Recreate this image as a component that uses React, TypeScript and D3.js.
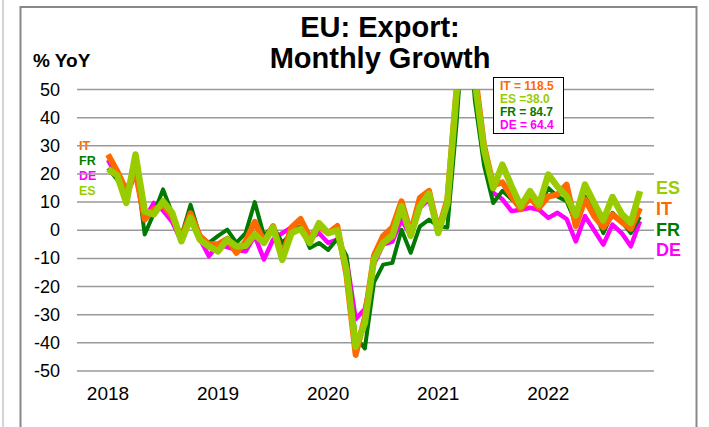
import * as d3 from 'd3';

// monthly % YoY, Jan 2018 .. Nov 2022
const IT = [
  26.9, 21, 14, 21, 3.8, 7.5, 9, 5, -3, 6, -2, -5,
  -5, -3, -8, -4, 3, -4, 1.5, -9, 1, 4, -2.5, 1.5,
  -1, 1.5, -16, -44.3, -31, -9, -2, 1, 10.3, -1, 11.5, 14,
  0, 11, 50, 118.5, 56, 30, 16, 17, 12, 7.5, 11.5, 8,
  12, 12.7, 16.2, 1.5, 11, 5, 1, 5.6, 3, 0.5, 7.9,
];
const FR = [
  22, 18, 12, 24, -1.5, 6, 14.5, 6, -2, 9, -2, -4.5,
  -2, 0.2, -4.5, -1, 10, -2, 1.4, -4.5, -1, 1.4, -6.3, -4.5,
  -7, -3, -9, -38, -42, -18.5, -12.2, -11.6, 0.2, -8, 1.4, 3.8,
  1.5, 1, 38, 84.7, 46, 23, 9.7, 14, 11, 7.9, 12, 8.5,
  15, 12, 10.3, 2.6, 12, 6.8, -1, 6.2, 3, -1, 4.8,
];
const DE = [
  25, 19, 12, 20, 4, 9.7, 7, 3, -4, 5, -3, -9.2,
  -5, -6, -7, -7.5, -2, -10.4, -3.3, -1, 1, 0.8, -3, -1,
  -4.5, -3.3, -10, -31.5, -28, -12, -5, -4, 3.8, -2, 8, 11,
  -1, 8, 46, 64.4, 52, 26, 13.3, 11, 6.8, 7.3, 8, 7.3,
  4.4, 6.2, 4, -4, 5, 0, -5.1, 2, -1, -5.7, 3.2,
];
const ES = [
  21.8, 19.5, 9.7, 26.9, 6.8, 5.6, 10.3, 6.2, -3.9, 4.4, -3.3, -5.7,
  -7.5, -3.3, -5.7, -5.5, -1.5, -4.5, 1, -10.5, -1, 0.5, -4.5, 2.5,
  -1, 0, -14, -41.4, -33, -10.4, -4.5, -2, 8.5, -2, 8.5, 13,
  -1, 9.7, 49, 60, 53, 28.5, 15, 23.3, 15.6, 8.5, 13.9, 9.1,
  19.8, 15.5, 12, 5.3, 16.2, 9.7, 3.5, 11.8, 5.8, 2.6, 13.9,
];

const yTicks = [50, 40, 30, 20, 10, 0, -10, -20, -30, -40, -50];
const yearLabels = ['2018', '2019', '2020', '2021', '2022'];
const yearIndex = [0, 12, 24, 36, 48];
const peakNotes = ['IT = 118.5', 'ES =38.0', 'FR = 84.7', 'DE = 64.4'];

const C = {IT: '#ff6a00', ES: '#99cc00', FR: '#007a00', DE: '#ff00ff'};
const FONT = '"Liberation Sans", Arial, sans-serif';

export default function App() {
  const W = 709;
  const H = 427;
  const plotL = 77;
  const plotR = 654;

  const x = d3.scaleLinear().domain([0, 58]).range([108, 640]);
  const y = d3.scaleLinear().domain([-50, 50]).range([371, 89.5]);

  const line = d3
    .line<number>()
    .x((_, i) => x(i))
    .y((d) => y(d));

  // draw order: DE, FR, IT, ES (ES on top)
  const series = [
    {key: 'DE', data: DE, color: C.DE, w: 4.5},
    {key: 'FR', data: FR, color: C.FR, w: 4},
    {key: 'IT', data: IT, color: C.IT, w: 6},
    {key: 'ES', data: ES, color: C.ES, w: 6.5},
  ];

  const leftLegend = [
    {t: 'IT', c: C.IT, y: 149.5},
    {t: 'FR', c: C.FR, y: 164.5},
    {t: 'DE', c: C.DE, y: 179.5},
    {t: 'ES', c: C.ES, y: 195},
  ];
  const rightLabels = [
    {t: 'ES', c: C.ES, y: 194},
    {t: 'IT', c: C.IT, y: 215},
    {t: 'FR', c: C.FR, y: 236},
    {t: 'DE', c: C.DE, y: 256},
  ];
  const noteColors = [C.IT, C.ES, C.FR, C.DE];

  return (
    <svg
      width={W}
      height={H}
      style={{position: 'absolute', left: 0, top: 0, background: '#fff'}}
      fontFamily={FONT}
    >
      <defs>
        <clipPath id="plot">
          <rect x={plotL} y={y(50)} width={plotR - plotL} height={y(-50) - y(50) + 10} />
        </clipPath>
      </defs>
      <line x1={3} x2={3} y1={0} y2={H} stroke="#aaa" strokeWidth={1} />
      <rect x={20.5} y={7} width={676} height={H + 10} fill="#fff" stroke="#888" strokeWidth={2} />

      <text x={380} y={37} textAnchor="middle" fontSize={29} fontWeight="bold">
        EU: Export:
      </text>
      <text x={380} y={68} textAnchor="middle" fontSize={29} fontWeight="bold">
        Monthly Growth
      </text>
      <text x={33} y={67} fontSize={19} fontWeight="bold">
        % YoY
      </text>

      {leftLegend.map((d) => (
        <text key={d.t} x={79} y={d.y} fontSize={12.5} fontWeight="bold" fill={d.c}>
          {d.t}
        </text>
      ))}

      {yTicks.map((t) => (
        <g key={t}>
          <line x1={plotL} x2={plotR} y1={y(t)} y2={y(t)} stroke="#999" strokeWidth={1.5} />
          <text x={60} y={y(t) + 6} textAnchor="end" fontSize={18}>
            {t}
          </text>
        </g>
      ))}

      {yearLabels.map((t, i) => (
        <text key={t} x={x(yearIndex[i])} y={400} textAnchor="middle" fontSize={19}>
          {t}
        </text>
      ))}

      <g clipPath="url(#plot)">
        {series.map((s) => (
          <path
            key={s.key}
            d={line(s.data) ?? ''}
            fill="none"
            stroke={s.color}
            strokeWidth={s.w}
            strokeLinejoin="round"
          />
        ))}
      </g>

      {rightLabels.map((d) => (
        <text key={d.t} x={656} y={d.y} fontSize={18} fontWeight="bold" fill={d.c}>
          {d.t}
        </text>
      ))}

      <rect x={493.5} y={77.5} width={70} height={56} fill="#fff" stroke="#000" strokeWidth={1} />
      {peakNotes.map((t, i) => (
        <text key={t} x={500} y={90 + i * 13} fontSize={12} fontWeight="bold" fill={noteColors[i]}>
          {t}
        </text>
      ))}
    </svg>
  );
}
